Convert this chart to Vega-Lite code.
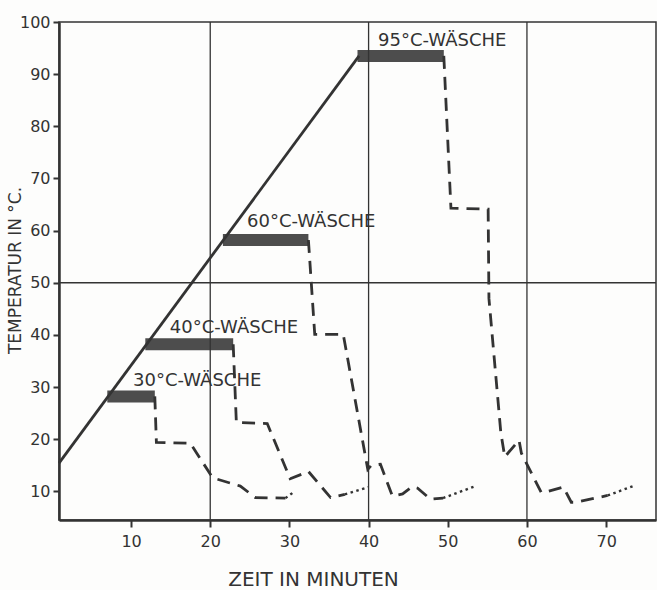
{
  "$schema": "https://vega.github.io/schema/vega-lite/v6.json",
  "autosize": "none",
  "width": 597,
  "height": 498,
  "padding": {"left": 59, "top": 22, "right": 1, "bottom": 70},
  "background": "#fdfdfc",
  "config": {
    "font": "DejaVu Sans",
    "view": {"stroke": "#333333", "strokeWidth": 1.5}
  },
  "layer": [
    {
      "data": {"values": [
        {"t": 7.0, "t2": 13.0, "temp": 28.2},
        {"t": 11.8, "t2": 22.9, "temp": 38.2},
        {"t": 21.6, "t2": 32.4, "temp": 58.2},
        {"t": 38.6, "t2": 49.5, "temp": 93.5}
      ]},
      "mark": {"type": "rule", "strokeWidth": 12, "color": "#4d4d4d", "strokeCap": "butt"},
      "encoding": {
        "x": {"field": "t", "type": "quantitative", "scale": {"domain": [0.9, 76.3], "nice": false, "zero": false},
          "axis": {"values": [10, 20, 30, 40, 50, 60, 70], "grid": false, "tickSize": 7, "tickWidth": 2, "tickColor": "#333333",
            "domainWidth": 2.5, "domainColor": "#333333", "labelFontSize": 16, "labelColor": "#333333", "labelPadding": 6,
            "title": "ZEIT IN MINUTEN", "titleFontSize": 20, "titleFontWeight": "normal", "titleColor": "#333333",
            "titleX": 254, "titleY": 65, "titleBaseline": "alphabetic", "titleAnchor": "middle", "titleAlign": "center"}},
        "x2": {"field": "t2"},
        "y": {"field": "temp", "type": "quantitative", "scale": {"domain": [4.5, 100], "nice": false, "zero": false},
          "axis": {"values": [10, 20, 30, 40, 50, 60, 70, 80, 90, 100], "grid": false, "tickSize": 6, "tickWidth": 2, "tickColor": "#333333",
            "domainWidth": 2.5, "domainColor": "#333333", "labelFontSize": 16, "labelColor": "#333333", "labelPadding": 3,
            "title": "TEMPERATUR IN °C.", "titleFontSize": 17, "titleFontWeight": "normal", "titleColor": "#333333",
            "titleX": -44, "titleY": 248, "titleAngle": 270, "titleBaseline": "middle", "titleAlign": "center"}}
      }
    },
    {
      "data": {"values": [{"t": 20}, {"t": 40}, {"t": 60}]},
      "mark": {"type": "rule", "strokeWidth": 1.3, "color": "#333333"},
      "encoding": {
        "x": {"field": "t", "type": "quantitative", "scale": {"domain": [0.9, 76.3], "nice": false, "zero": false}}
      }
    },
    {
      "data": {"values": [{"temp": 50}]},
      "mark": {"type": "rule", "strokeWidth": 1.3, "color": "#333333"},
      "encoding": {
        "y": {"field": "temp", "type": "quantitative", "scale": {"domain": [4.5, 100], "nice": false, "zero": false}}
      }
    },
    {
      "data": {"values": [{"t": 0.9, "temp": 15.4}, {"t": 38.8, "temp": 93.5}]},
      "mark": {"type": "line", "strokeWidth": 2.8, "color": "#333333"},
      "encoding": {
        "x": {"field": "t", "type": "quantitative", "scale": {"domain": [0.9, 76.3], "nice": false, "zero": false}},
        "y": {"field": "temp", "type": "quantitative", "scale": {"domain": [4.5, 100], "nice": false, "zero": false}}
      }
    },
    {
      "data": {"values": [
        {"curve": "30", "i": 1, "t": 13.0, "temp": 28.2},
        {"curve": "30", "i": 2, "t": 13.2, "temp": 19.4},
        {"curve": "30", "i": 3, "t": 17.5, "temp": 19.2},
        {"curve": "30", "i": 4, "t": 20.3, "temp": 12.6},
        {"curve": "30", "i": 5, "t": 23.8, "temp": 11.0},
        {"curve": "30", "i": 6, "t": 25.7, "temp": 8.8},
        {"curve": "30", "i": 7, "t": 29.5, "temp": 8.7},
        {"curve": "40", "i": 1, "t": 22.9, "temp": 38.2},
        {"curve": "40", "i": 2, "t": 23.3, "temp": 23.2},
        {"curve": "40", "i": 3, "t": 27.2, "temp": 23.0},
        {"curve": "40", "i": 4, "t": 30.1, "temp": 12.4},
        {"curve": "40", "i": 5, "t": 32.4, "temp": 13.8},
        {"curve": "40", "i": 6, "t": 35.2, "temp": 8.8},
        {"curve": "40", "i": 7, "t": 37.0, "temp": 9.4},
        {"curve": "60", "i": 1, "t": 32.4, "temp": 58.2},
        {"curve": "60", "i": 2, "t": 33.2, "temp": 40.1},
        {"curve": "60", "i": 3, "t": 36.8, "temp": 40.1},
        {"curve": "60", "i": 4, "t": 39.9, "temp": 14.2},
        {"curve": "60", "i": 5, "t": 40.3, "temp": 14.9},
        {"curve": "60", "i": 6, "t": 41.5, "temp": 15.2},
        {"curve": "60", "i": 7, "t": 43.0, "temp": 9.1},
        {"curve": "60", "i": 8, "t": 44.3, "temp": 9.5},
        {"curve": "60", "i": 9, "t": 45.5, "temp": 10.9},
        {"curve": "60", "i": 10, "t": 46.2, "temp": 10.6},
        {"curve": "60", "i": 11, "t": 47.8, "temp": 8.5},
        {"curve": "60", "i": 12, "t": 49.4, "temp": 8.7},
        {"curve": "95", "i": 1, "t": 49.5, "temp": 93.5},
        {"curve": "95", "i": 2, "t": 50.4, "temp": 64.3},
        {"curve": "95", "i": 3, "t": 55.1, "temp": 64.1},
        {"curve": "95", "i": 4, "t": 55.2, "temp": 47.0},
        {"curve": "95", "i": 5, "t": 56.7, "temp": 21.3},
        {"curve": "95", "i": 6, "t": 57.2, "temp": 16.6},
        {"curve": "95", "i": 7, "t": 59.0, "temp": 19.8},
        {"curve": "95", "i": 8, "t": 59.3, "temp": 17.3},
        {"curve": "95", "i": 9, "t": 61.8, "temp": 9.8},
        {"curve": "95", "i": 10, "t": 62.7, "temp": 10.0},
        {"curve": "95", "i": 11, "t": 64.6, "temp": 10.8},
        {"curve": "95", "i": 12, "t": 65.6, "temp": 7.9},
        {"curve": "95", "i": 13, "t": 66.2, "temp": 7.9},
        {"curve": "95", "i": 14, "t": 70.2, "temp": 9.2}
      ]},
      "mark": {"type": "line", "strokeWidth": 2.8, "color": "#333333", "strokeDash": [13, 8]},
      "encoding": {
        "x": {"field": "t", "type": "quantitative", "scale": {"domain": [0.9, 76.3], "nice": false, "zero": false}},
        "y": {"field": "temp", "type": "quantitative", "scale": {"domain": [4.5, 100], "nice": false, "zero": false}},
        "detail": {"field": "curve"},
        "order": {"field": "i", "type": "quantitative"}
      }
    },
    {
      "data": {"values": [
        {"curve": "30", "i": 1, "t": 29.5, "temp": 8.7},
        {"curve": "30", "i": 2, "t": 30.5, "temp": 9.8},
        {"curve": "40", "i": 1, "t": 37.0, "temp": 9.4},
        {"curve": "40", "i": 2, "t": 40.0, "temp": 10.8},
        {"curve": "60", "i": 1, "t": 49.4, "temp": 8.7},
        {"curve": "60", "i": 2, "t": 53.5, "temp": 11.0},
        {"curve": "95", "i": 1, "t": 70.2, "temp": 9.2},
        {"curve": "95", "i": 2, "t": 73.4, "temp": 11.0}
      ]},
      "mark": {"type": "line", "strokeWidth": 2.4, "color": "#333333", "strokeDash": [2.5, 3.5]},
      "encoding": {
        "x": {"field": "t", "type": "quantitative", "scale": {"domain": [0.9, 76.3], "nice": false, "zero": false}},
        "y": {"field": "temp", "type": "quantitative", "scale": {"domain": [4.5, 100], "nice": false, "zero": false}},
        "detail": {"field": "curve"},
        "order": {"field": "i", "type": "quantitative"}
      }
    },
    {
      "data": {"values": [
        {"t": 10.25, "temp": 31.1, "label": "30°C-WÄSCHE"},
        {"t": 14.9, "temp": 41.3, "label": "40°C-WÄSCHE"},
        {"t": 24.65, "temp": 61.6, "label": "60°C-WÄSCHE"},
        {"t": 41.2, "temp": 96.4, "label": "95°C-WÄSCHE"}
      ]},
      "mark": {"type": "text", "align": "left", "baseline": "middle", "fontSize": 18, "color": "#333333"},
      "encoding": {
        "x": {"field": "t", "type": "quantitative", "scale": {"domain": [0.9, 76.3], "nice": false, "zero": false}},
        "y": {"field": "temp", "type": "quantitative", "scale": {"domain": [4.5, 100], "nice": false, "zero": false}},
        "text": {"field": "label"}
      }
    }
  ]
}
